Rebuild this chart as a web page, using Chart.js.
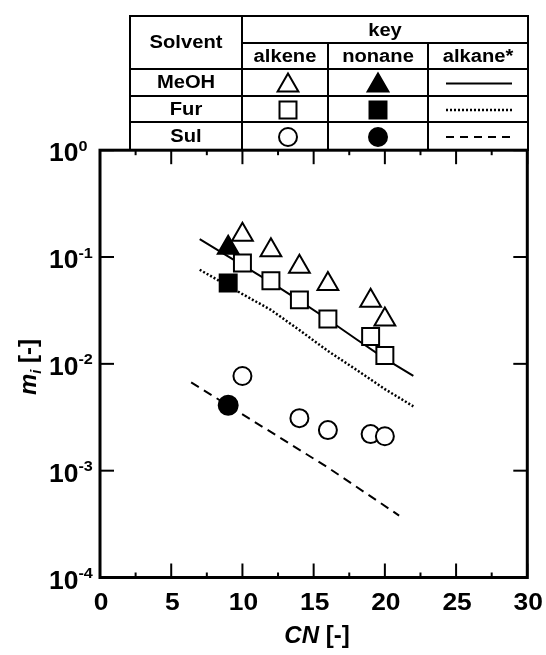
<!DOCTYPE html>
<html>
<head>
<meta charset="utf-8">
<script src="https://cdn.jsdelivr.net/npm/chart.js@4.4.1/dist/chart.umd.min.js"></script>
<style>
  html, body { margin: 0; padding: 0; background: #fff; }
  #wrap { width: 546px; height: 655px; }
</style>
</head>
<body>
<div id="wrap"><canvas id="c" width="546" height="655"></canvas></div>
<script>
// values (CN = carbon number, m_i on log axis)
var meohAlkeneCN = [10, 12, 14, 16, 19, 20];
var meohAlkeneM  = [0.162, 0.116, 0.081, 0.056, 0.039, 0.026];
var meohNonaneCN = [9];
var meohNonaneM  = [0.122];

var furAlkeneCN = [10, 12, 14, 16, 19, 20];
var furAlkeneM  = [0.088, 0.060, 0.0397, 0.0263, 0.018, 0.012];
var furNonaneCN = [9];
var furNonaneM  = [0.057];

var sulAlkeneCN = [10, 14, 16, 19, 20];
var sulAlkeneM  = [0.0077, 0.0031, 0.0024, 0.0022, 0.0021];
var sulNonaneCN = [9];
var sulNonaneM  = [0.0041];

// alkane* correlation curves
var meohAlkaneCN = [7, 10, 12, 14, 16, 18, 20, 22];
var meohAlkaneM  = [0.147, 0.084, 0.058, 0.039, 0.026, 0.017, 0.0112, 0.0077];
var furAlkaneCN  = [7, 10, 12, 14, 16, 18, 20, 22];
var furAlkaneM   = [0.076, 0.045, 0.032, 0.0207, 0.0132, 0.0088, 0.0058, 0.0040];
var sulAlkaneCN  = [6.4, 13, 16, 21];
var sulAlkaneM   = [0.0067, 0.0019, 0.00107, 0.00038];

var xTicks = [0, 5, 10, 15, 20, 25, 30];
var xMinorTicks = [2.5, 7.5, 12.5, 17.5, 22.5, 27.5];
var yTicks = [1, 0.1, 0.01, 0.001, 0.0001];
var yTickExp = ['0', '-1', '-2', '-3', '-4'];

var tableRows = ['MeOH', 'Fur', 'Sul'];
var tableCols = ['alkene', 'nonane', 'alkane*'];
var rowMarks = ['triangle', 'rect', 'circle'];
var rowDash = [[], [2, 2], [8, 6]];

var FONT = '"Liberation Sans", Arial, sans-serif';

function pts(xs, ys) {
  return xs.map(function (x, i) { return { x: x, y: ys[i] }; });
}

function markSet(label, xs, ys, style, filled, r) {
  return {
    label: label, data: pts(xs, ys), showLine: false,
    pointStyle: style, pointRadius: r, pointHoverRadius: r,
    pointBorderWidth: 2, pointBorderColor: '#000',
    pointBackgroundColor: filled ? '#000' : '#fff'
  };
}

function lineSet(label, xs, ys, dash, width) {
  return {
    label: label, data: pts(xs, ys), showLine: true,
    pointRadius: 0, borderColor: '#000', borderWidth: width || 2,
    borderDash: dash, tension: 0, fill: false
  };
}

function drawMark(ctx, style, x, y, r, filled) {
  ctx.beginPath();
  if (style === 'triangle') {
    ctx.moveTo(x, y - r);
    ctx.lineTo(x + r * Math.sin(2 * Math.PI / 3), y + r * 0.5);
    ctx.lineTo(x - r * Math.sin(2 * Math.PI / 3), y + r * 0.5);
    ctx.closePath();
  } else if (style === 'rect') {
    var s = r * Math.SQRT1_2;
    ctx.rect(x - s, y - s, 2 * s, 2 * s);
  } else {
    ctx.arc(x, y, r, 0, 2 * Math.PI);
  }
  ctx.fillStyle = filled ? '#000' : '#fff';
  ctx.fill();
  ctx.lineWidth = 2;
  ctx.strokeStyle = '#000';
  ctx.stroke();
}

function text(ctx, str, x, y, font, align, sx) {
  ctx.save();
  ctx.font = font;
  ctx.translate(x, y);
  ctx.scale(sx || 1, 1);
  ctx.textAlign = align || 'center';
  ctx.fillText(str, 0, 0);
  ctx.restore();
}

function seg(ctx, x1, y1, x2, y2) {
  ctx.beginPath();
  ctx.moveTo(x1, y1);
  ctx.lineTo(x2, y2);
  ctx.stroke();
}

var framePlugin = {
  id: 'frame',
  afterDraw: function (chart) {
    var ctx = chart.ctx, a = chart.chartArea;
    var xs = chart.scales.x, ys = chart.scales.y;
    ctx.save();
    ctx.strokeStyle = '#000';
    ctx.fillStyle = '#000';

    // inward ticks on all four sides
    ctx.lineWidth = 2;
    xTicks.forEach(function (v) {
      var px = xs.getPixelForValue(v);
      seg(ctx, px, a.bottom, px, a.bottom - 14);
      seg(ctx, px, a.top, px, a.top + 14);
    });
    xMinorTicks.forEach(function (v) {
      var px = xs.getPixelForValue(v);
      seg(ctx, px, a.bottom, px, a.bottom - 5);
      seg(ctx, px, a.top, px, a.top + 5);
    });
    yTicks.forEach(function (v) {
      var py = ys.getPixelForValue(v);
      seg(ctx, a.left, py, a.left + 14, py);
      seg(ctx, a.right, py, a.right - 14, py);
    });

    ctx.lineWidth = 3;
    ctx.strokeRect(a.left, a.top, a.right - a.left, a.bottom - a.top);

    // tick labels
    ctx.textBaseline = 'alphabetic';
    xTicks.forEach(function (v) {
      text(ctx, String(v), xs.getPixelForValue(v) + 1, a.bottom + 32, 'bold 24px ' + FONT, 'center', 1.1);
    });
    yTicks.forEach(function (v, i) {
      var py = ys.getPixelForValue(v);
      ctx.font = 'bold 25px ' + FONT;
      var w = ctx.measureText('10').width * 1.06;
      text(ctx, '10', 49, py + 11, 'bold 25px ' + FONT, 'left', 1.06);
      text(ctx, yTickExp[i], 49 + w, py + 0.5, 'bold 15px ' + FONT, 'left', 1.08);
    });

    // axis titles
    var fi = 'italic bold 24px ' + FONT, fb = 'bold 24px ' + FONT;
    ctx.font = fi; var w1 = ctx.measureText('CN').width;
    ctx.font = fb; var w2 = ctx.measureText(' [-]').width;
    var x0 = 317 - (w1 + w2) / 2;
    text(ctx, 'CN', x0, 643, fi, 'left', 1);
    text(ctx, ' [-]', x0 + w1, 643, fb, 'left', 1);

    ctx.save();
    ctx.translate(36, 367);
    ctx.rotate(-Math.PI / 2);
    var fm = 'italic bold 24px ' + FONT, fs = 'italic bold 15px ' + FONT, fr = 'bold 24px ' + FONT;
    ctx.font = fm; var m1 = ctx.measureText('m').width;
    ctx.font = fs; var m2 = ctx.measureText('i').width;
    ctx.font = fr; var m3 = ctx.measureText(' [-]').width;
    var s0 = -(m1 + m2 + m3) / 2;
    text(ctx, 'm', s0, 0, fm, 'left', 1);
    text(ctx, 'i', s0 + m1, 5, fs, 'left', 1);
    text(ctx, ' [-]', s0 + m1 + m2, 0, fr, 'left', 1);
    ctx.restore();

    // key table above the plot
    var cx = [130, 242, 328, 428, 528];
    var ry = [16, 43, 69, 96, 122, 150];
    ctx.lineWidth = 2;
    ctx.strokeRect(cx[0], ry[0], cx[4] - cx[0], ry[5] - ry[0]);
    seg(ctx, cx[1], ry[0], cx[1], ry[5]);
    seg(ctx, cx[1], ry[1], cx[4], ry[1]);
    seg(ctx, cx[2], ry[1], cx[2], ry[5]);
    seg(ctx, cx[3], ry[1], cx[3], ry[5]);
    seg(ctx, cx[0], ry[2], cx[4], ry[2]);
    seg(ctx, cx[0], ry[3], cx[4], ry[3]);
    seg(ctx, cx[0], ry[4], cx[4], ry[4]);

    var tf = 'bold 18px ' + FONT;
    ctx.textBaseline = 'middle';
    text(ctx, 'Solvent', (cx[0] + cx[1]) / 2, (ry[0] + ry[2]) / 2 + 1, tf, 'center', 1.12);
    text(ctx, 'key', (cx[1] + cx[4]) / 2, (ry[0] + ry[1]) / 2 + 2, tf, 'center', 1.12);
    tableCols.forEach(function (c, j) {
      text(ctx, c, (cx[j + 1] + cx[j + 2]) / 2, (ry[1] + ry[2]) / 2 + 1, tf, 'center', 1.12);
    });
    tableRows.forEach(function (r, i) {
      var yc = (ry[i + 2] + ry[i + 3]) / 2 + 1;
      text(ctx, r, (cx[0] + cx[1]) / 2, yc, tf, 'center', 1.12);
      drawMark(ctx, rowMarks[i], 288, yc + (rowMarks[i] === 'triangle' ? 2 : 0), rowMarks[i] === 'circle' ? 9 : 12, false);
      drawMark(ctx, rowMarks[i], 378, yc + (rowMarks[i] === 'triangle' ? 2 : 0), rowMarks[i] === 'circle' ? 9 : 12, true);
      ctx.setLineDash(rowDash[i]);
      ctx.lineWidth = i === 1 ? 2.5 : 2;
      seg(ctx, 446, yc, 512, yc);
      ctx.setLineDash([]);
    });
    ctx.restore();
  }
};

new Chart(document.getElementById('c'), {
  type: 'scatter',
  data: {
    datasets: [
      markSet('MeOH nonane', meohNonaneCN, meohNonaneM, 'triangle', true, 12),
      markSet('Fur nonane', furNonaneCN, furNonaneM, 'rect', true, 12),
      markSet('Sul nonane', sulNonaneCN, sulNonaneM, 'circle', true, 9.5),
      markSet('MeOH alkene', meohAlkeneCN, meohAlkeneM, 'triangle', false, 12),
      markSet('Fur alkene', furAlkeneCN, furAlkeneM, 'rect', false, 12),
      markSet('Sul alkene', sulAlkeneCN, sulAlkeneM, 'circle', false, 9),
      lineSet('MeOH alkane*', meohAlkaneCN, meohAlkaneM, [], 2),
      lineSet('Fur alkane*', furAlkaneCN, furAlkaneM, [2, 2], 2.5),
      lineSet('Sul alkane*', sulAlkaneCN, sulAlkaneM, [9, 6], 2)
    ]
  },
  options: {
    responsive: false,
    animation: false,
    devicePixelRatio: 1,
    layout: { padding: { left: 100, right: 18.7, top: 150.2, bottom: 77.5 } },
    plugins: { legend: { display: false }, tooltip: { enabled: false } },
    scales: {
      x: { type: 'linear', min: 0, max: 30, display: false },
      y: { type: 'logarithmic', min: 0.0001, max: 1, display: false }
    }
  },
  plugins: [framePlugin]
});
</script>
</body>
</html>
